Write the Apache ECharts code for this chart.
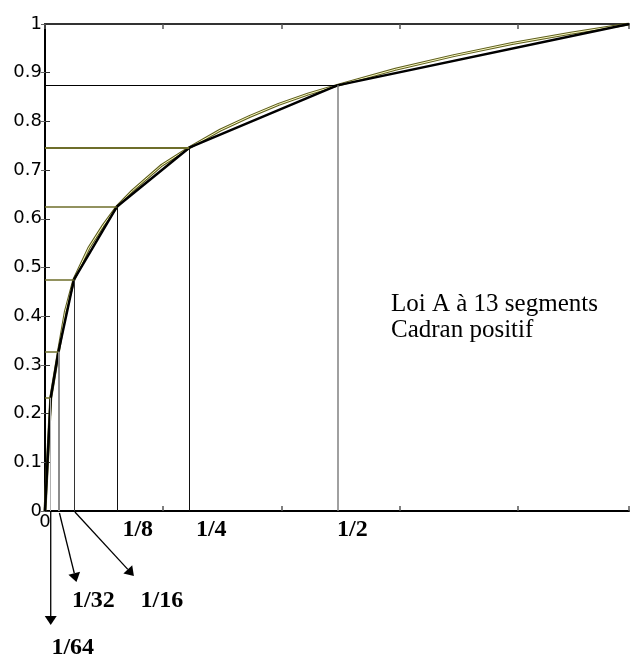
<!DOCTYPE html>
<html>
<head>
<meta charset="utf-8">
<script src="https://cdn.jsdelivr.net/npm/echarts@6/dist/echarts.min.js"></script>
<style>
  html, body { margin: 0; padding: 0; background: #fff; }
  #chart { width: 632px; height: 660px; }
</style>
</head>
<body>
<div id="chart"></div>
<script>
// segment end points of the 13-segment A law (black polyline)
const segX = [0, 0.0098, 0.023, 0.0495, 0.1229, 0.247, 0.5005, 1];
const segY = [0, 0.232, 0.327, 0.475, 0.6246, 0.746, 0.874, 1];

// smooth A law curve (olive line)
const curveX = [0, 0.0098, 0.023, 0.035, 0.0495, 0.075, 0.1, 0.1229, 0.15, 0.2, 0.247, 0.3, 0.35, 0.4, 0.45, 0.5005, 0.6, 0.7, 0.8, 0.9, 1];
const curveY = [0, 0.232, 0.327, 0.41, 0.475, 0.54, 0.587, 0.6246, 0.658, 0.71, 0.746, 0.782, 0.81, 0.835, 0.856, 0.874, 0.907, 0.935, 0.96, 0.981, 1];

// guide lines for each segment boundary (index into segX / segY)
const guideIdx = [1, 2, 3, 4, 5, 6];
const hColors = ['#6e6e2a', '#6e6e2a', '#6e6e2a', '#6e6e2a', '#6e6e2a', '#000000'];
const hWidths = [1.5, 1.5, 1.5, 1.5, 2, 1.2];
const vColors = ['#b0b0b0', '#8c8c8c', '#333333', '#111111', '#111111', '#808080'];
const vWidths = [1, 2, 1, 1, 1, 1.5];

const fracLabels = ['1/64', '1/32', '1/16', '1/8', '1/4', '1/2'];
const noteText = 'Loi A à 13 segments\nCadran positif';

const chart = echarts.init(document.getElementById('chart'));

const curve = curveX.map((x, i) => [x, curveY[i]]);
const seg = segX.map((x, i) => [x, segY[i]]);

const guides = [];
guideIdx.forEach((k, i) => {
  guides.push([{ coord: [0, segY[k]], lineStyle: { color: hColors[i], width: hWidths[i], type: 'solid' } },
               { coord: [segX[k], segY[k]] }]);
  guides.push([{ coord: [segX[k], 0], lineStyle: { color: vColors[i], width: vWidths[i], type: 'solid' } },
               { coord: [segX[k], segY[k]] }]);
});

const labelFont = { fontFamily: 'DejaVu Sans', fontSize: 18, color: '#000' };

const option = {
  animation: false,
  grid: { left: 45, right: 0, top: 24, bottom: 149 },
  xAxis: [
    {
      type: 'value', min: 0, max: 1, interval: 0.2024, position: 'bottom',
      axisLine: { show: true, onZero: false, lineStyle: { color: '#000', width: 2 } },
      axisTick: { show: true, inside: true, length: 5, lineStyle: { color: '#555', width: 1.5 } },
      axisLabel: Object.assign({ margin: 2, formatter: v => (v === 0 ? '0' : '') }, labelFont),
      splitLine: { show: false }
    },
    {
      type: 'value', min: 0, max: 1, interval: 0.2024, position: 'top',
      axisLine: { show: true, onZero: false, lineStyle: { color: '#333', width: 2 } },
      axisTick: { show: true, inside: true, length: 5, lineStyle: { color: '#555', width: 1.5 } },
      axisLabel: { show: false },
      splitLine: { show: false }
    }
  ],
  yAxis: [
    {
      type: 'value', min: 0, max: 1, interval: 0.1, position: 'left',
      axisLine: { show: true, onZero: false, lineStyle: { color: '#000', width: 2 } },
      axisTick: { show: true, inside: true, length: 5, lineStyle: { color: '#333', width: 1 } },
      axisLabel: Object.assign({ margin: 3, padding: [0, 0, 9, 0] }, labelFont),
      splitLine: { show: false }
    },
    {
      type: 'value', min: 0, max: 1, interval: 0.1, position: 'right',
      axisLine: { show: false },
      axisTick: { show: true, inside: true, length: 4, lineStyle: { color: '#666', width: 1 } },
      axisLabel: { show: false },
      splitLine: { show: false }
    }
  ],
  series: [
    {
      type: 'line', data: [], silent: true,
      markLine: { silent: true, symbol: 'none', label: { show: false }, data: guides }
    },
    {
      name: 'courbe', type: 'line', data: curve, showSymbol: false, silent: true,
      lineStyle: { color: '#5f5f1c', width: 3 }
    },
    {
      name: 'courbe2', type: 'line', data: curve, showSymbol: false, silent: true,
      lineStyle: { color: '#fbfbc8', width: 1 }
    },
    {
      name: 'segments', type: 'line', data: seg, showSymbol: false, silent: true,
      lineStyle: { color: '#000', width: 2.5 }
    }
  ]
};
chart.setOption(option);

// annotations below the axis, placed from the axis scale
const px = x => chart.convertToPixel({ xAxisIndex: 0 }, x);
const axisY = chart.convertToPixel({ yAxisIndex: 0 }, 0);

function arrow(x0, y0, x1, y1) {
  const ang = Math.atan2(y1 - y0, x1 - x0);
  const len = 9, half = 6;
  const bx = x1 - len * Math.cos(ang), by = y1 - len * Math.sin(ang);
  const nx = -Math.sin(ang) * half, ny = Math.cos(ang) * half;
  return [
    { type: 'line', shape: { x1: x0, y1: y0, x2: bx, y2: by }, style: { stroke: '#000', lineWidth: 1.3 } },
    { type: 'polygon', shape: { points: [[x1, y1], [bx + nx, by + ny], [bx - nx, by - ny]] }, style: { fill: '#000' } }
  ];
}

const bold = { font: 'bold 24px "Liberation Serif"', fill: '#000', textAlign: 'center', textVerticalAlign: 'middle' };
const graphics = [];
const x64 = px(segX[1]), x32 = px(segX[2]), x16 = px(segX[3]);
graphics.push(...arrow(x64, axisY + 1, x64, axisY + 114));
graphics.push(...arrow(x32 + 1, axisY + 2, x32 + 18, axisY + 71));
graphics.push(...arrow(x16 + 1, axisY + 1, x16 + 60, axisY + 65));
const labelPos = [
  [x64 + 22, axisY + 137], [x32 + 35, axisY + 90], [x16 + 88, axisY + 90],
  [px(segX[4]) + 21, axisY + 19], [px(segX[5]) + 22, axisY + 19], [px(segX[6]) + 15, axisY + 19]
];
fracLabels.forEach((t, i) => {
  graphics.push({ type: 'text', x: labelPos[i][0], y: labelPos[i][1], style: Object.assign({ text: t }, bold) });
});
graphics.push({
  type: 'text', x: 391, y: 291,
  style: { text: noteText, font: '25px "Liberation Serif"', fill: '#000', lineHeight: 26 }
});

chart.setOption({ graphic: graphics });
</script>
</body>
</html>
